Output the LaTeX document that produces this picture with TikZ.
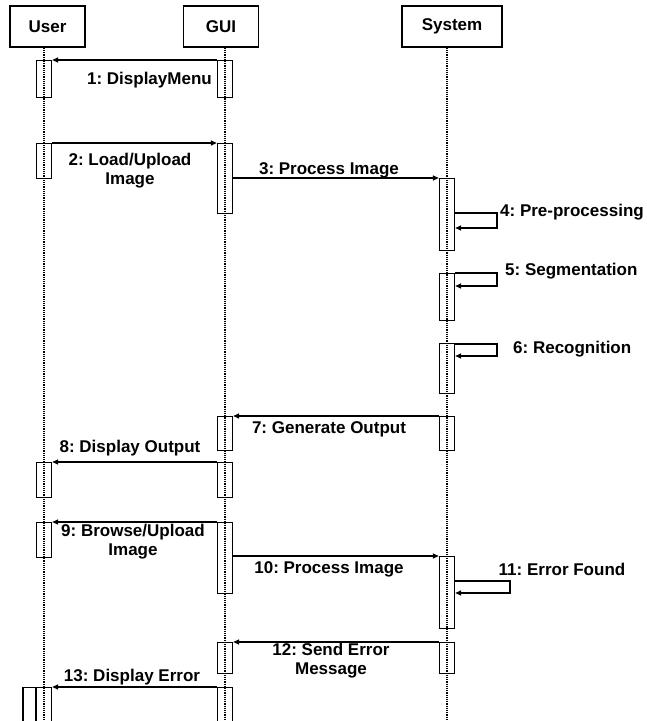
\documentclass[tikz,border=0pt]{standalone}
\usepackage{fontspec}
\setmainfont{Liberation Sans}
\usetikzlibrary{arrows.meta}
\frenchspacing
\begin{document}
\begin{tikzpicture}[x=1pt,y=-1pt,
  headbox/.style={draw,line width=1.6pt,minimum width=75pt,minimum height=41pt,inner sep=0pt,font=\fontsize{17}{19}\selectfont\bfseries},
  actbox/.style={draw,line width=1.4pt,minimum width=15pt,inner sep=0pt,anchor=north},
  life/.style={line width=1.2pt,densely dotted},
  msg/.style={line width=1.4pt,-{Triangle[length=6pt,width=5pt]}},
  lbl/.style={font=\fontsize{17}{19}\selectfont\bfseries,inner sep=0pt,align=center}]
\useasboundingbox (0,0) rectangle (647,721);
% heads
\node[headbox] (user) at (47.5,26.5) {User};
\node[headbox] (gui) at (221,26.5) {GUI};
\node[headbox,minimum width=100pt] (sys) at (452,26.5) {System};
% lifelines
\coordinate (userend) at (44,730);
\coordinate (guiend) at (225,730);
\coordinate (sysend) at (447,730);
\draw[life] (user.south -| userend) -- (userend);
\draw[life] (gui.south -| guiend) -- (guiend);
\draw[life] (sys.south -| sysend) -- (sysend);
% activations: User x=44
\node[actbox,minimum height=37pt] (u1) at (44,60) {};
\node[actbox,minimum height=35pt] (u2) at (44,143) {};
\node[actbox,minimum height=35pt] (u3) at (44,462) {};
\node[actbox,minimum height=35pt] (u4) at (44,522) {};
\node[actbox,minimum height=45pt] (u5) at (44,687) {};
\node[actbox,minimum height=45pt,minimum width=13pt] (u5b) at (29.5,687) {};
% GUI x=225
\node[actbox,minimum height=37pt] (g1) at (225,60) {};
\node[actbox,minimum height=70pt] (g2) at (225,143) {};
\node[actbox,minimum height=34pt] (g3) at (225,416) {};
\node[actbox,minimum height=35pt] (g4) at (225,462) {};
\node[actbox,minimum height=71pt] (g5) at (225,522) {};
\node[actbox,minimum height=31pt] (g6) at (225,642) {};
\node[actbox,minimum height=45pt] (g7) at (225,687) {};
% System x=447
\node[actbox,minimum height=72pt] (s1) at (447,178) {};
\node[actbox,minimum height=47pt] (s2) at (447,273) {};
\node[actbox,minimum height=50pt] (s3) at (447,343) {};
\node[actbox,minimum height=34pt] (s4) at (447,416) {};
\node[actbox,minimum height=72pt] (s5) at (447,556) {};
\node[actbox,minimum height=31pt] (s6) at (447,642) {};
% messages
\draw[msg] (g1.north west) -- (u1.north east);
\node[lbl,anchor=east] (l1) at (212,80) {1: DisplayMenu};
\draw[msg] (u2.north east) -- (g2.north west);
\node[lbl] (l2) at (130,171) {2: Load/Upload\\Image};
\draw[msg] (g2.east |- s1.north) -- (s1.north west);
\node[lbl] (l3) at (329,170) {3: Process Image};
\draw[msg] (s1.east |- 0,213) -- (497,213) |- (s1.east |- 0,228);
\node[lbl,anchor=west] (l4) at (500,212) {4: Pre-processing};
\draw[msg] (s2.east |- 0,273) -- (497,273) |- (s2.east |- 0,286);
\node[lbl,anchor=west] (l5) at (505,271) {5: Segmentation};
\draw[msg] (s3.east |- 0,344) -- (497,344) |- (s3.east |- 0,356);
\node[lbl,anchor=west] (l6) at (513,349) {6: Recognition};
\draw[msg] (s4.north west) -- (g3.north east);
\node[lbl] (l7) at (329,429) {7: Generate Output};
\draw[msg] (g4.north west) -- (u3.north east);
\node[lbl] (l8) at (130,448) {8: Display Output};
\draw[msg] (g5.north west) -- (u4.north east);
\node[lbl] (l9) at (133,542) {9: Browse/Upload\\Image};
\draw[msg] (g5.east |- s5.north) -- (s5.north west);
\node[lbl] (l10) at (329,569) {10: Process Image};
\draw[msg] (s5.east |- 0,581) -- (510,581) |- (s5.east |- 0,593);
\node[lbl] (l11) at (562,569) {11: Error Found};
\draw[msg] (s6.north west) -- (g6.north east);
\node[lbl] (l12) at (331,661) {12: Send Error\\Message};
\draw[msg] (g7.north west) -- (u5.north east);
\node[lbl] (l13) at (132,677) {13: Display Error};
\end{tikzpicture}
\end{document}
